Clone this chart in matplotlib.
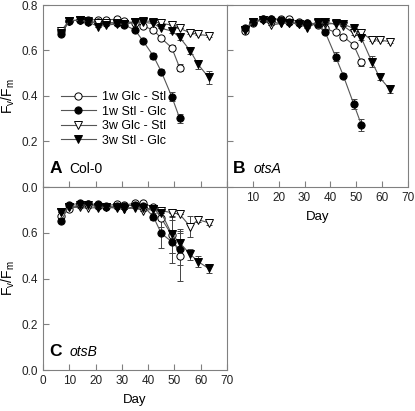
import numpy as np
import matplotlib
matplotlib.use("Agg")
from matplotlib import pyplot as plt
from matplotlib.lines import Line2D

plt.rcParams['font.family'] = ['Liberation Sans', 'DejaVu Sans']

# days sampled
days_c = [7, 10, 14, 17, 21, 24, 28, 31, 35, 38, 42, 45, 49, 52]
days_t = [7, 10, 14, 17, 21, 24, 28, 31, 35, 38, 42, 45, 49, 52, 56, 59, 63]

labels = ["1w Glc - Stl", "1w Stl - Glc", "3w Glc - Stl", "3w Stl - Glc"]

# panel A, Col-0
a_1w_glc = [0.687, 0.731, 0.733, 0.735, 0.735, 0.735, 0.737, 0.728, 0.722, 0.708, 0.690, 0.654, 0.612, 0.524]
a_1w_glc_err = [0, 0, 0, 0, 0, 0, 0, 0, 0, 0, 0.006, 0.008, 0.012, 0.015]
a_1w_stl = [0.671, 0.731, 0.733, 0.726, 0.725, 0.722, 0.720, 0.712, 0.690, 0.643, 0.576, 0.507, 0.397, 0.302]
a_1w_stl_err = [0, 0, 0, 0, 0, 0, 0, 0, 0, 0.008, 0.015, 0.01, 0.02, 0.02]
a_3w_glc = [0.687, 0.731, 0.733, 0.730, 0.719, 0.722, 0.722, 0.716, 0.727, 0.731, 0.727, 0.719, 0.712, 0.697, 0.678, 0.671, 0.665]
a_3w_glc_err = [0] * 14 + [0.005, 0.005, 0.006]
a_3w_stl = [0.675, 0.731, 0.733, 0.727, 0.705, 0.712, 0.716, 0.716, 0.724, 0.724, 0.719, 0.697, 0.686, 0.658, 0.599, 0.539, 0.482]
a_3w_stl_err = [0] * 12 + [0.008, 0.01, 0.015, 0.02, 0.03]

# panel B, otsA
b_1w_glc = [0.687, 0.722, 0.739, 0.738, 0.739, 0.738, 0.727, 0.719, 0.712, 0.697, 0.680, 0.661, 0.624, 0.548]
b_1w_glc_err = [0] * 12 + [0.008, 0.015]
b_1w_stl = [0.697, 0.727, 0.739, 0.739, 0.732, 0.727, 0.722, 0.722, 0.716, 0.680, 0.573, 0.489, 0.365, 0.273]
b_1w_stl_err = [0] * 10 + [0.02, 0.01, 0.02, 0.025]
b_3w_glc = [0.690, 0.725, 0.735, 0.712, 0.719, 0.722, 0.716, 0.705, 0.727, 0.716, 0.719, 0.708, 0.676, 0.679, 0.646, 0.646, 0.639]
b_3w_glc_err = [0] * 12 + [0.008, 0.008, 0.006, 0.006, 0.008]
b_3w_stl = [0.690, 0.725, 0.735, 0.725, 0.719, 0.722, 0.716, 0.700, 0.722, 0.724, 0.716, 0.716, 0.697, 0.654, 0.551, 0.482, 0.429]
b_3w_stl_err = [0] * 13 + [0.01, 0.025, 0.01, 0.015]

# panel C, otsB
c_1w_glc = [0.675, 0.704, 0.721, 0.726, 0.717, 0.717, 0.726, 0.721, 0.729, 0.729, 0.712, 0.663, 0.590, 0.498]
c_1w_glc_err = [0] * 11 + [0.04, 0.08, 0.11]
c_1w_stl = [0.653, 0.721, 0.729, 0.726, 0.724, 0.714, 0.717, 0.717, 0.721, 0.719, 0.670, 0.597, 0.561, 0.528]
c_1w_stl_err = [0] * 10 + [0.015, 0.065, 0.095, 0.07]
c_3w_glc = [0.690, 0.711, 0.711, 0.708, 0.710, 0.711, 0.711, 0.705, 0.708, 0.697, 0.703, 0.696, 0.688, 0.681, 0.627, 0.657, 0.644]
c_3w_glc_err = [0] * 14 + [0.045, 0.008, 0.01]
c_3w_stl = [0.690, 0.712, 0.721, 0.721, 0.714, 0.711, 0.708, 0.705, 0.714, 0.708, 0.703, 0.688, 0.593, 0.556, 0.506, 0.474, 0.444]
c_3w_stl_err = [0] * 12 + [0.08, 0.06, 0.025, 0.025, 0.02]

panels = [
    ("A", "Col-0", "normal", [a_1w_glc, a_1w_stl, a_3w_glc, a_3w_stl],
     [a_1w_glc_err, a_1w_stl_err, a_3w_glc_err, a_3w_stl_err]),
    ("B", "otsA", "italic", [b_1w_glc, b_1w_stl, b_3w_glc, b_3w_stl],
     [b_1w_glc_err, b_1w_stl_err, b_3w_glc_err, b_3w_stl_err]),
    ("C", "otsB", "italic", [c_1w_glc, c_1w_stl, c_3w_glc, c_3w_stl],
     [c_1w_glc_err, c_1w_stl_err, c_3w_glc_err, c_3w_stl_err]),
]

styles = [("o", "white"), ("o", "black"), ("v", "white"), ("v", "black")]
gray = "#808080"
linecol = "#555555"

fig = plt.figure(figsize=(4.15, 4.11), dpi=100)
W, H = 415, 411
def box(l, r, t, b):
    return [l / W, 1 - b / H, (r - l) / W, (b - t) / H]

axA = fig.add_axes(box(43, 227, 5, 187))
axB = fig.add_axes(box(227, 408, 5, 187))
axC = fig.add_axes(box(43, 227, 187, 370))

for ax, (letter, name, fstyle, series, errs) in zip([axA, axB, axC], panels):
    for i, (ys, es) in enumerate(zip(series, errs)):
        xs = days_c if len(ys) == len(days_c) else days_t
        m, fc = styles[i]
        ax.errorbar(xs, ys, yerr=es, color=linecol, lw=0.8, marker=m, ms=5.2,
                    mfc=fc, mec="black", mew=0.7, ecolor="#444444",
                    elinewidth=0.7, capsize=2.2, capthick=0.7)
    ax.set_xlim(0, 70)
    ax.set_ylim(0, 0.8)
    ax.set_xticks(range(0, 71, 10))
    ax.set_yticks([0.0, 0.2, 0.4, 0.6, 0.8])
    for s in ax.spines.values():
        s.set_color(gray)
        s.set_linewidth(0.8)
    ax.tick_params(direction="in", length=4, width=0.8, color=gray,
                   labelsize=8.5, labelcolor="#222222")
    ax.text(0.035, 0.06, letter, transform=ax.transAxes, fontsize=12.5,
            fontweight="bold", va="bottom")
    ax.text(0.145, 0.06, name, transform=ax.transAxes, fontsize=10,
            style=fstyle, va="bottom")

axA.tick_params(labelbottom=False)
axA.set_yticklabels(["0.0", "0.2", "0.4", "0.6", "0.8"])
axB.tick_params(labelleft=False)
axB.set_xticklabels(["", "10", "20", "30", "40", "50", "60", "70"])
axC.set_yticklabels(["0.0", "0.2", "0.4", "0.6", ""])

ylab = "F$_\\mathregular{v}$/F$_\\mathregular{m}$"
axA.set_ylabel(ylab, fontsize=10, labelpad=3)
axC.set_ylabel(ylab, fontsize=10, labelpad=3)
axB.set_xlabel("Day", fontsize=9.5, labelpad=5)
axC.set_xlabel("Day", fontsize=9.5, labelpad=5)

handles = [Line2D([], [], color=linecol, lw=0.8, marker=m, ms=5.2, mfc=fc,
                  mec="black", mew=0.7) for m, fc in styles]
axA.legend(handles, labels, loc="upper left", bbox_to_anchor=(0.05, 0.575),
           frameon=False, fontsize=9, handlelength=2.8, handletextpad=0.5,
           labelspacing=0.2, borderpad=0.2)

fig.savefig("out.png", dpi=100)
